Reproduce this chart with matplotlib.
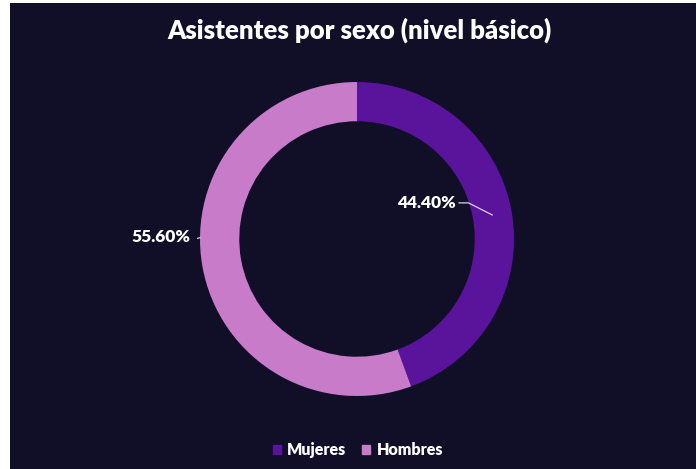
import matplotlib
matplotlib.use("Agg")
import matplotlib.pyplot as plt
import numpy as np
from matplotlib.patches import Rectangle

categories = ["Mujeres", "Hombres"]
values = [44.4, 55.6]
labels = ["44.40%", "55.60%"]
colors = ["#5a149c", "#c87bc9"]

W, H = 696, 469
fig = plt.figure(figsize=(W / 100, H / 100), dpi=100, facecolor="white")
plt.rcParams['font.family'] = ['Lato', 'DejaVu Sans']

# dark background panel
bg = fig.add_axes([10 / W, 0, 1 - 10 / W, 466 / H])
bg.set_facecolor("#110e28")
bg.set_xticks([]); bg.set_yticks([])
for s in bg.spines.values():
    s.set_visible(False)

cx, cy, R = 357, H - 239, 157
L = 160
ax = fig.add_axes([(cx - L) / W, (cy - L) / H, 2 * L / W, 2 * L / H])

ring = 0.25
wedges, _ = ax.pie(values, colors=colors, startangle=90, counterclock=False,
                   radius=1.0, wedgeprops=dict(width=ring, edgecolor="none"))
ax.set_xlim(-L / R, L / R)
ax.set_ylim(-L / R, L / R)
ax.axis("off")

# label for Mujeres: leader to mid ring at mid angle
w0 = wedges[0]
ang = np.deg2rad((w0.theta1 + w0.theta2) / 2)
rm = 1 - ring / 2
ex, ey = rm * np.cos(ang), rm * np.sin(ang)
tx, ty = 0.63, 0.23
ax.plot([tx + 0.02, tx + 0.08, ex], [ty, ty, ey], color="#d9d0e6", lw=0.9)
ax.text(tx, ty, labels[0], ha="right", va="center", color="white",
        fontsize=12.5, fontweight="heavy")

# label for Hombres: leader to outer edge on left
ang2 = np.deg2rad(179.5)
ex2, ey2 = 1.0 * np.cos(ang2), 1.0 * np.sin(ang2)
tx2, ty2 = -1.06, 0.01
ax.plot([tx2 + 0.01, tx2 + 0.03, ex2], [ty2, ty2 - 0.01, ey2], color="#d9d0e6", lw=0.9)
ax.text(tx2, ty2, labels[1], ha="right", va="center", color="white",
        fontsize=12.5, fontweight="heavy")

fig.text(359 / W, 1 - 30 / H, "Asistentes por sexo (nivel básico)", ha="center", va="center",
         color="white", fontsize=18.5, fontweight="heavy")

handles = [Rectangle((0, 0), 1, 1, color=c) for c in colors]
leg = fig.legend(handles, categories, loc="center", bbox_to_anchor=(358 / W, 1 - 450 / H),
                 ncol=2, frameon=False, handlelength=0.5, handleheight=0.5,
                 handletextpad=0.4, columnspacing=1.0, fontsize=11.5)
for t in leg.get_texts():
    t.set_color("white")
    t.set_fontweight("heavy")

fig.savefig("out.png", dpi=100, facecolor="white")
